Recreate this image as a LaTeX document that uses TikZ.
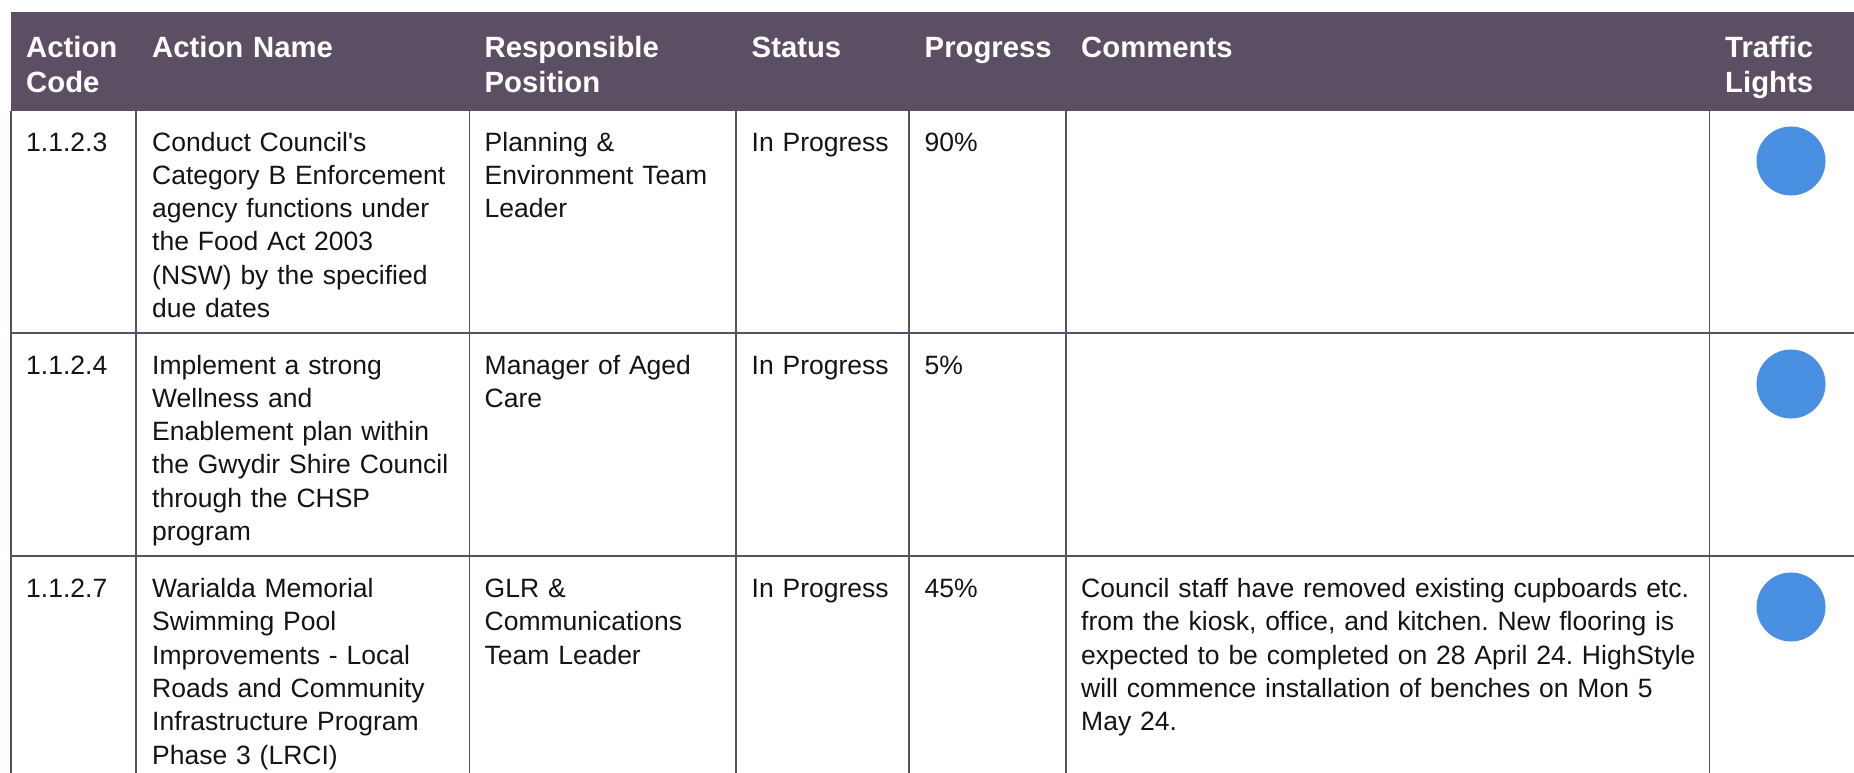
\documentclass[tikz,border=0pt]{standalone}
\usepackage{fontspec}
\setmainfont{Liberation Sans}[Ligatures=TeXOff]
\definecolor{headpurple}{RGB}{93,79,99}
\definecolor{rulepurple}{RGB}{90,78,98}
\definecolor{lightblue}{RGB}{74,144,226}
\definecolor{bodytext}{RGB}{20,20,20}
\frenchspacing
\begin{document}
\begin{tikzpicture}[x=1pt,y=-1pt,
  hcell/.style={anchor=base west,inner sep=0pt,text=white,align=left,text width=250pt,
    font=\fontsize{29.3}{35.4}\selectfont\bfseries\frenchspacing},
  cell/.style={anchor=base west,inner sep=0pt,text=bodytext,align=left,text width=#1,
    font=\fontsize{26.5}{33.3}\selectfont\frenchspacing},
  cell/.default=320pt,
  grid/.style={draw=rulepurple,line width=1.3pt},
  light/.style={circle,fill=lightblue,minimum size=69pt,inner sep=0pt}]
\useasboundingbox (0,0) rectangle (1854,773);
\fill[white] (0,0) rectangle (1854,773);
% header band
\fill[headpurple] (11,12) rectangle (1854,111);
% grid lines
\foreach \xx in {11,136,469.5,736,909,1066,1709.5}
  \draw[grid] (\xx,111) -- (\xx,773);
\draw[grid] (11,333) -- (1854,333);
\draw[grid] (11,556) -- (1854,556);
% header texts
\node[hcell] (h1) at (26,57.3) {Action\\Code};
\node[hcell] (h2) at (152,57.3) {Action Name};
\node[hcell] (h3) at (484.5,57.3) {Responsible\\Position};
\node[hcell] (h4) at (751.5,57.3) {Status};
\node[hcell] (h5) at (924.5,57.3) {Progress};
\node[hcell] (h6) at (1081,57.3) {Comments};
\node[hcell] (h7) at (1725,57.3) {Traffic\\Lights};
% row 1
\node[cell] (r1c1) at (26,151) {1.1.2.3};
\node[cell] (r1c2) at (152,151) {Conduct Council's\\Category B Enforcement\\agency functions under\\the Food Act 2003\\(NSW) by the specified\\due dates};
\node[cell] (r1c3) at (484.5,151) {Planning \&\\Environment Team\\Leader};
\node[cell] (r1c4) at (751.5,151) {In Progress};
\node[cell] (r1c5) at (924.5,151) {90\%};
\node[light] (r1tl) at (1791,161) {};
% row 2
\node[cell] (r2c1) at (26,374) {1.1.2.4};
\node[cell] (r2c2) at (152,374) {Implement a strong\\Wellness and\\Enablement plan within\\the Gwydir Shire Council\\through the CHSP\\program};
\node[cell] (r2c3) at (484.5,374) {Manager of Aged\\Care};
\node[cell] (r2c4) at (751.5,374) {In Progress};
\node[cell] (r2c5) at (924.5,374) {5\%};
\node[light] (r2tl) at (1791,384) {};
% row 3
\node[cell] (r3c1) at (26,597.5) {1.1.2.7};
\node[cell] (r3c2) at (152,597.5) {Warialda Memorial\\Swimming Pool\\Improvements - Local\\Roads and Community\\Infrastructure Program\\Phase 3 (LRCI)};
\node[cell] (r3c3) at (484.5,597.5) {GLR \&\\Communications\\Team Leader};
\node[cell] (r3c4) at (751.5,597.5) {In Progress};
\node[cell] (r3c5) at (924.5,597.5) {45\%};
\node[cell=700pt] (r3c6) at (1081,597.5) {Council staff have removed existing cupboards etc.\\from the kiosk, office, and kitchen. New flooring is\\expected to be completed on 28 April 24. HighStyle\\will commence installation of benches on Mon 5\\May 24.};
\node[light] (r3tl) at (1791,607) {};
\end{tikzpicture}
\end{document}
